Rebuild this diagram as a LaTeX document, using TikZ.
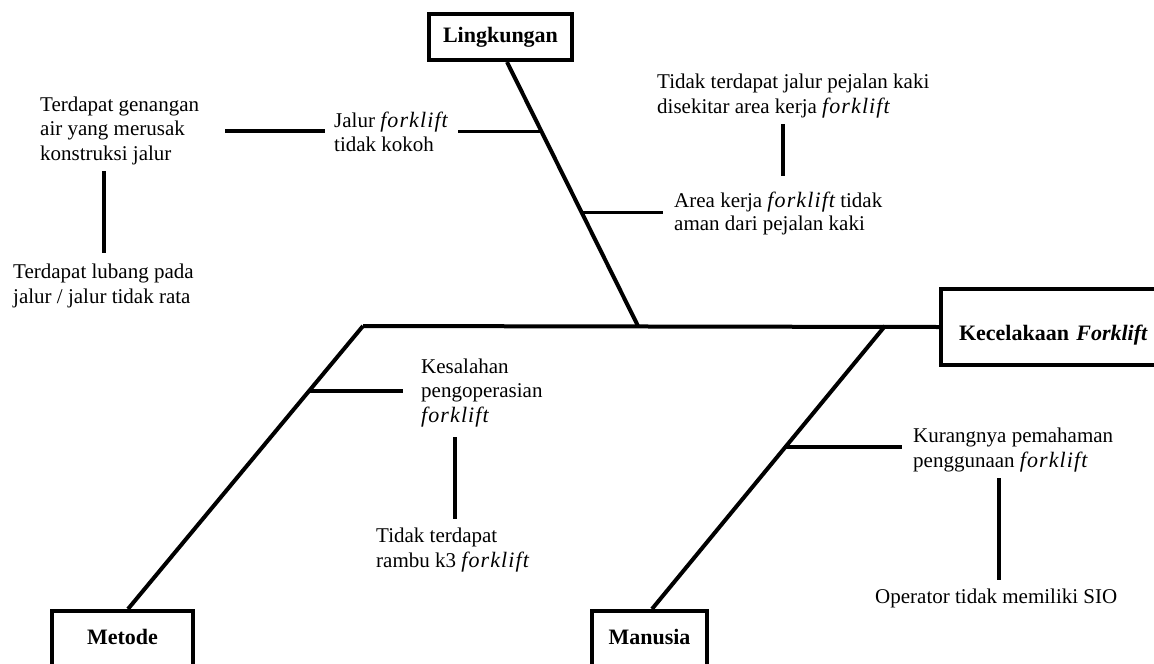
\documentclass[tikz,border=0pt]{standalone}
\usepackage{fontspec}
\setmainfont{Liberation Serif}
\newfontfamily\itf{Liberation Serif}[LetterSpace=5]
\newcommand\fkl{{\itf\itshape\fontsize{22}{24.5}\selectfont forklift}}
\usetikzlibrary{calc}
\begin{document}
\begin{tikzpicture}[x=1pt,y=-1pt,
  txt/.style={anchor=base west, align=left, inner sep=0pt, font=\fontsize{21}{24.5}\selectfont},
  cat/.style={draw, line width=4pt, font=\fontsize{22}{24.5}\selectfont\bfseries, inner sep=0pt},
  bone/.style={line width=4pt},
  twig/.style={line width=3.5pt}]
\useasboundingbox[fill=white] (0,0) rectangle (1154,664);

% category boxes
\node[cat, minimum width=143pt, minimum height=46pt, text height=15pt, text depth=5pt] (ling) at (500.5,37) {Lingkungan};
\node[cat, anchor=west, minimum height=76pt, inner xsep=18pt, text width=200pt, align=left, text height=31pt, text depth=5pt] (kec) at (939,327) {Kecelakaan \textit{Forklift}};
\node[cat, anchor=north, minimum width=141pt, minimum height=70pt, text height=15pt, text depth=19pt] (met) at (122.5,609) {Metode};
\node[cat, anchor=north, minimum width=115pt, minimum height=70pt, text height=15pt, text depth=19pt] (man) at (649.5,609) {Manusia};

% cause texts (base = last line)
\node[txt] (genangan) at (40,160) {Terdapat genangan\\air yang merusak\\konstruksi jalur};
\node[txt] (lubang) at (13,303) {Terdapat lubang pada\\jalur / jalur tidak rata};
\node[txt] (jalur) at (334,151.5) {Jalur \fkl\\tidak kokoh};
\node[txt] (pejalan) at (657,113) {Tidak terdapat jalur pejalan kaki\\disekitar area kerja \fkl};
\node[txt, font=\fontsize{21}{23}\selectfont] (area) at (674,230) {Area kerja \fkl{} tidak\\aman dari pejalan kaki};
\node[txt] (kesalahan) at (421,422) {Kesalahan\\pengoperasian\\\fkl};
\node[txt] (rambu) at (376,567) {Tidak terdapat\\rambu k3 \fkl};
\node[txt] (kurang) at (913,467) {Kurangnya pemahaman\\penggunaan \fkl};
\node[txt] (sio) at (875,603) {Operator tidak memiliki SIO};

% skeleton
\coordinate (sp0) at (363,326);
\coordinate (lj) at (638,326);
\coordinate (mj) at (885,326);
\coordinate (lt) at ([xshift=6.5pt]ling.south);
\coordinate (mt) at ([xshift=5.5pt]met.north);
\coordinate (nt) at ([xshift=2.5pt]man.north);
\draw[bone] (sp0) -- (kec.west);
\draw[bone] (lt) -- (lj);
\draw[bone] (sp0) -- (mt);
\draw[bone] (mj) -- (nt);

% branch points and ends
\coordinate (b1) at ($(lt)!0.263!(lj)$);
\coordinate (b2) at ($(lt)!0.571!(lj)$);
\coordinate (b3) at ($(sp0)!0.23!(mt)$);
\coordinate (b4) at ($(mj)!0.428!(nt)$);
\coordinate (e1) at (458,0);
\coordinate (e2) at (663,0);
\coordinate (e3) at (403,0);
\coordinate (e4) at (902,0);
\draw[twig] (b1) -- (b1 -| e1);
\draw[twig] (b2) -- (b2 -| e2);
\draw[twig] (b3) -- (b3 -| e3);
\draw[twig] (b4) -- (b4 -| e4);

% secondary links
\coordinate (g1) at (225,131);
\coordinate (g2) at (325,131);
\draw[twig] (g1) -- (g2);
\coordinate (v1a) at (104,171);
\coordinate (v1b) at (104,253);
\draw[twig] (v1a) -- (v1b);
\coordinate (v2a) at (783,124);
\coordinate (v2b) at (783,176);
\draw[twig] (v2a) -- (v2b);
\coordinate (v3a) at (455,437);
\coordinate (v3b) at (455,519);
\draw[twig] (v3a) -- (v3b);
\coordinate (v4a) at (999,478);
\coordinate (v4b) at (999,580);
\draw[twig] (v4a) -- (v4b);
\end{tikzpicture}
\end{document}
